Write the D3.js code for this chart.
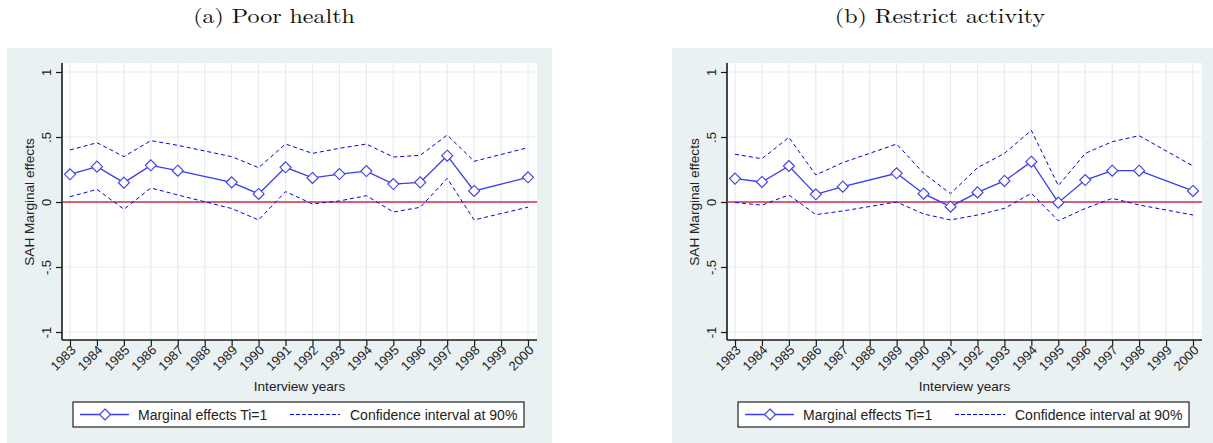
<!DOCTYPE html>
<html>
<head>
<meta charset="utf-8">
<script src="https://cdn.jsdelivr.net/npm/d3@7"></script>
<style>
  html, body { margin: 0; padding: 0; background: #ffffff; }
  svg { display: block; }
</style>
</head>
<body>
<script>
// ---------- data ----------
const years = [1983,1984,1985,1986,1987,1988,1989,1990,1991,1992,1993,1994,1995,1996,1997,1998,1999,2000];
const yTicks = [-1, -0.5, 0, 0.5, 1];
const yTickLabels = ["-1", "-.5", "0", ".5", "1"];
const panelTitles = ["(a) Poor health", "(b) Restrict activity"];
const legendLabels = ["Marginal effects Ti=1", "Confidence interval at 90%"];
const xTitle = "Interview years";
const yTitle = "SAH Marginal effects";

const poorME = [0.213, 0.272, 0.149, 0.282, 0.241, null, 0.151, 0.062, 0.267, 0.185, 0.215, 0.238, 0.138, 0.151, 0.356, 0.085, null, 0.190];
const poorUp = [0.400, 0.456, 0.349, 0.472, 0.436, null, 0.349, 0.264, 0.446, 0.374, 0.413, 0.446, 0.346, 0.359, 0.515, 0.313, null, 0.418];
const poorLo = [0.041, 0.097, -0.056, 0.108, 0.054, null, -0.050, -0.138, 0.080, -0.015, 0.008, 0.049, -0.077, -0.041, 0.182, -0.138, null, -0.040];

const restME = [0.180, 0.154, 0.277, 0.059, 0.118, null, 0.221, 0.064, -0.036, 0.074, 0.162, 0.310, -0.005, 0.169, 0.241, 0.241, null, 0.085];
const restUp = [0.367, 0.333, 0.497, 0.208, 0.303, null, 0.446, 0.221, 0.064, 0.264, 0.374, 0.551, 0.126, 0.374, 0.464, 0.510, null, 0.277];
const restLo = [-0.004, -0.024, 0.054, -0.097, -0.069, null, 0.000, -0.092, -0.138, -0.100, -0.049, 0.067, -0.144, -0.050, 0.028, -0.023, null, -0.100];

const panels = [
  { title: panelTitles[0], me: poorME, up: poorUp, lo: poorLo, bgX: 7, axisX: 62, titleX: 274 },
  { title: panelTitles[1], me: restME, up: restUp, lo: restLo, bgX: 672, axisX: 727, titleX: 940 }
];

// ---------- style ----------
const W = 1213, H = 443;
const bgColor = "#eaf1f3";
const gridColor = "#e4edf0";
const blue = "#0000ff";
const lineBlue = "#3a3aff";
const refRed = "#d6627a";
const sans = "'Liberation Sans', Arial, sans-serif";
const serif = "'Latin Modern Roman', 'DejaVu Serif', serif";

const svg = d3.select("body").append("svg").attr("width", W).attr("height", H);
svg.append("rect").attr("width", W).attr("height", H).attr("fill", "#ffffff");

const diamond = "M0,-5.5L5.5,0L0,5.5L-5.5,0Z";

panels.forEach(p => {
  const g = svg.append("g");
  const plotLeft = p.axisX, plotRight = p.axisX + 475, plotTop = 63, plotBottom = 340;

  g.append("rect").attr("x", p.bgX).attr("y", 48).attr("width", 545).attr("height", 395).attr("fill", bgColor);
  g.append("rect").attr("x", plotLeft).attr("y", plotTop).attr("width", plotRight - plotLeft).attr("height", plotBottom - plotTop).attr("fill", "#ffffff");

  // title
  svg.append("text").attr("transform", `translate(${p.titleX},23) scale(1.17,1)`).attr("text-anchor", "middle")
    .attr("font-family", serif).attr("font-size", 20.5).attr("fill", "#111").text(p.title);

  const x = d3.scaleLinear().domain([1983, 2000]).range([p.axisX + 8, p.axisX + 466]);
  const y = d3.scaleLinear().domain([-1, 1]).range([332, 72]);

  g.append("g").selectAll("line").data(years).join("line")
    .attr("x1", d => x(d)).attr("x2", d => x(d)).attr("y1", plotTop).attr("y2", plotBottom)
    .attr("stroke", gridColor).attr("stroke-width", 1.2);
  g.append("g").selectAll("line").data(yTicks).join("line")
    .attr("x1", plotLeft).attr("x2", plotRight).attr("y1", d => y(d)).attr("y2", d => y(d))
    .attr("stroke", gridColor).attr("stroke-width", 1.2);

  // y axis
  const yAxis = d3.axisLeft(y).tickValues(yTicks).tickSize(6).tickPadding(6)
    .tickFormat((d, i) => yTickLabels[i]);
  const ya = g.append("g").attr("transform", `translate(${plotLeft},0)`).call(yAxis);
  ya.select(".domain").attr("d", `M0,${plotTop}V${plotBottom}`).attr("stroke", "#1a1a1a").attr("stroke-width", 1.6);
  ya.selectAll(".tick line").attr("stroke", "#1a1a1a").attr("stroke-width", 1.2);
  ya.selectAll(".tick text")
    .attr("font-family", sans).attr("font-size", 13).attr("fill", "#222")
    .attr("text-anchor", "middle").attr("dy", "0")
    .attr("transform", "translate(-11,0) rotate(-90)")
    .attr("x", 0).attr("y", 0);

  // x axis
  const xAxis = d3.axisBottom(x).tickValues(years).tickSize(6).tickFormat(d3.format("d"));
  const xa = g.append("g").attr("transform", `translate(0,${plotBottom})`).call(xAxis);
  xa.select(".domain").attr("d", `M${plotLeft},0H${plotRight}`).attr("stroke", "#1a1a1a").attr("stroke-width", 1.6);
  xa.selectAll(".tick line").attr("stroke", "#1a1a1a").attr("stroke-width", 1.2);
  xa.selectAll(".tick text")
    .attr("font-family", sans).attr("font-size", 13).attr("fill", "#222")
    .attr("text-anchor", "end").attr("dy", "0").attr("y", 0)
    .attr("transform", "translate(6,11) rotate(-45)");

  // axis titles
  g.append("text").attr("x", (plotLeft + plotRight) / 2).attr("y", 391).attr("text-anchor", "middle")
    .attr("font-family", sans).attr("font-size", 13.6).attr("fill", "#222").text(xTitle);
  g.append("text").attr("transform", `translate(${plotLeft - 28},${y(0)}) rotate(-90)`).attr("text-anchor", "middle")
    .attr("font-family", sans).attr("font-size", 13.6).attr("fill", "#222").text(yTitle);

  // zero reference line
  g.append("line").attr("x1", plotLeft + 1).attr("x2", plotRight).attr("y1", y(0)).attr("y2", y(0))
    .attr("stroke", refRed).attr("stroke-width", 2.2);

  const rows = years.map((yr, i) => ({ yr, me: p.me[i], up: p.up[i], lo: p.lo[i] }));
  const mk = key => d3.line().x(d => x(d.yr)).y(d => y(d[key]));
  const valid = key => rows.filter(d => d[key] !== null);

  g.append("path").attr("d", mk("up")(valid("up"))).attr("fill", "none")
    .attr("stroke", blue).attr("stroke-width", 1).attr("stroke-dasharray", "4,3");
  g.append("path").attr("d", mk("lo")(valid("lo"))).attr("fill", "none")
    .attr("stroke", blue).attr("stroke-width", 1).attr("stroke-dasharray", "4,3");
  g.append("path").attr("d", mk("me")(valid("me"))).attr("fill", "none")
    .attr("stroke", lineBlue).attr("stroke-width", 1.3);
  g.append("g").selectAll("path").data(valid("me")).join("path")
    .attr("d", diamond).attr("transform", d => `translate(${x(d.yr)},${y(d.me)})`)
    .attr("fill", "#ffffff").attr("stroke", lineBlue).attr("stroke-width", 1.1);

  // legend
  const lx = plotLeft + 11, ly = 402, lw = 451, lh = 25;
  const lg = g.append("g");
  lg.append("rect").attr("x", lx).attr("y", ly).attr("width", lw).attr("height", lh)
    .attr("fill", "#ffffff").attr("stroke", "#222").attr("stroke-width", 1.2);
  const cy = ly + lh / 2;
  lg.append("line").attr("x1", lx + 7).attr("x2", lx + 56).attr("y1", cy).attr("y2", cy)
    .attr("stroke", lineBlue).attr("stroke-width", 1.3);
  lg.append("path").attr("d", diamond).attr("transform", `translate(${lx + 32},${cy})`)
    .attr("fill", "#ffffff").attr("stroke", lineBlue).attr("stroke-width", 1.1);
  lg.append("text").attr("x", lx + 65).attr("y", cy + 5).attr("font-family", sans).attr("font-size", 14)
    .attr("fill", "#222").text(legendLabels[0]);
  lg.append("line").attr("x1", lx + 217).attr("x2", lx + 267).attr("y1", cy).attr("y2", cy)
    .attr("stroke", blue).attr("stroke-width", 1).attr("stroke-dasharray", "4,2");
  lg.append("text").attr("x", lx + 277).attr("y", cy + 5).attr("font-family", sans).attr("font-size", 14)
    .attr("fill", "#222").text(legendLabels[1]);
});
</script>
</body>
</html>
